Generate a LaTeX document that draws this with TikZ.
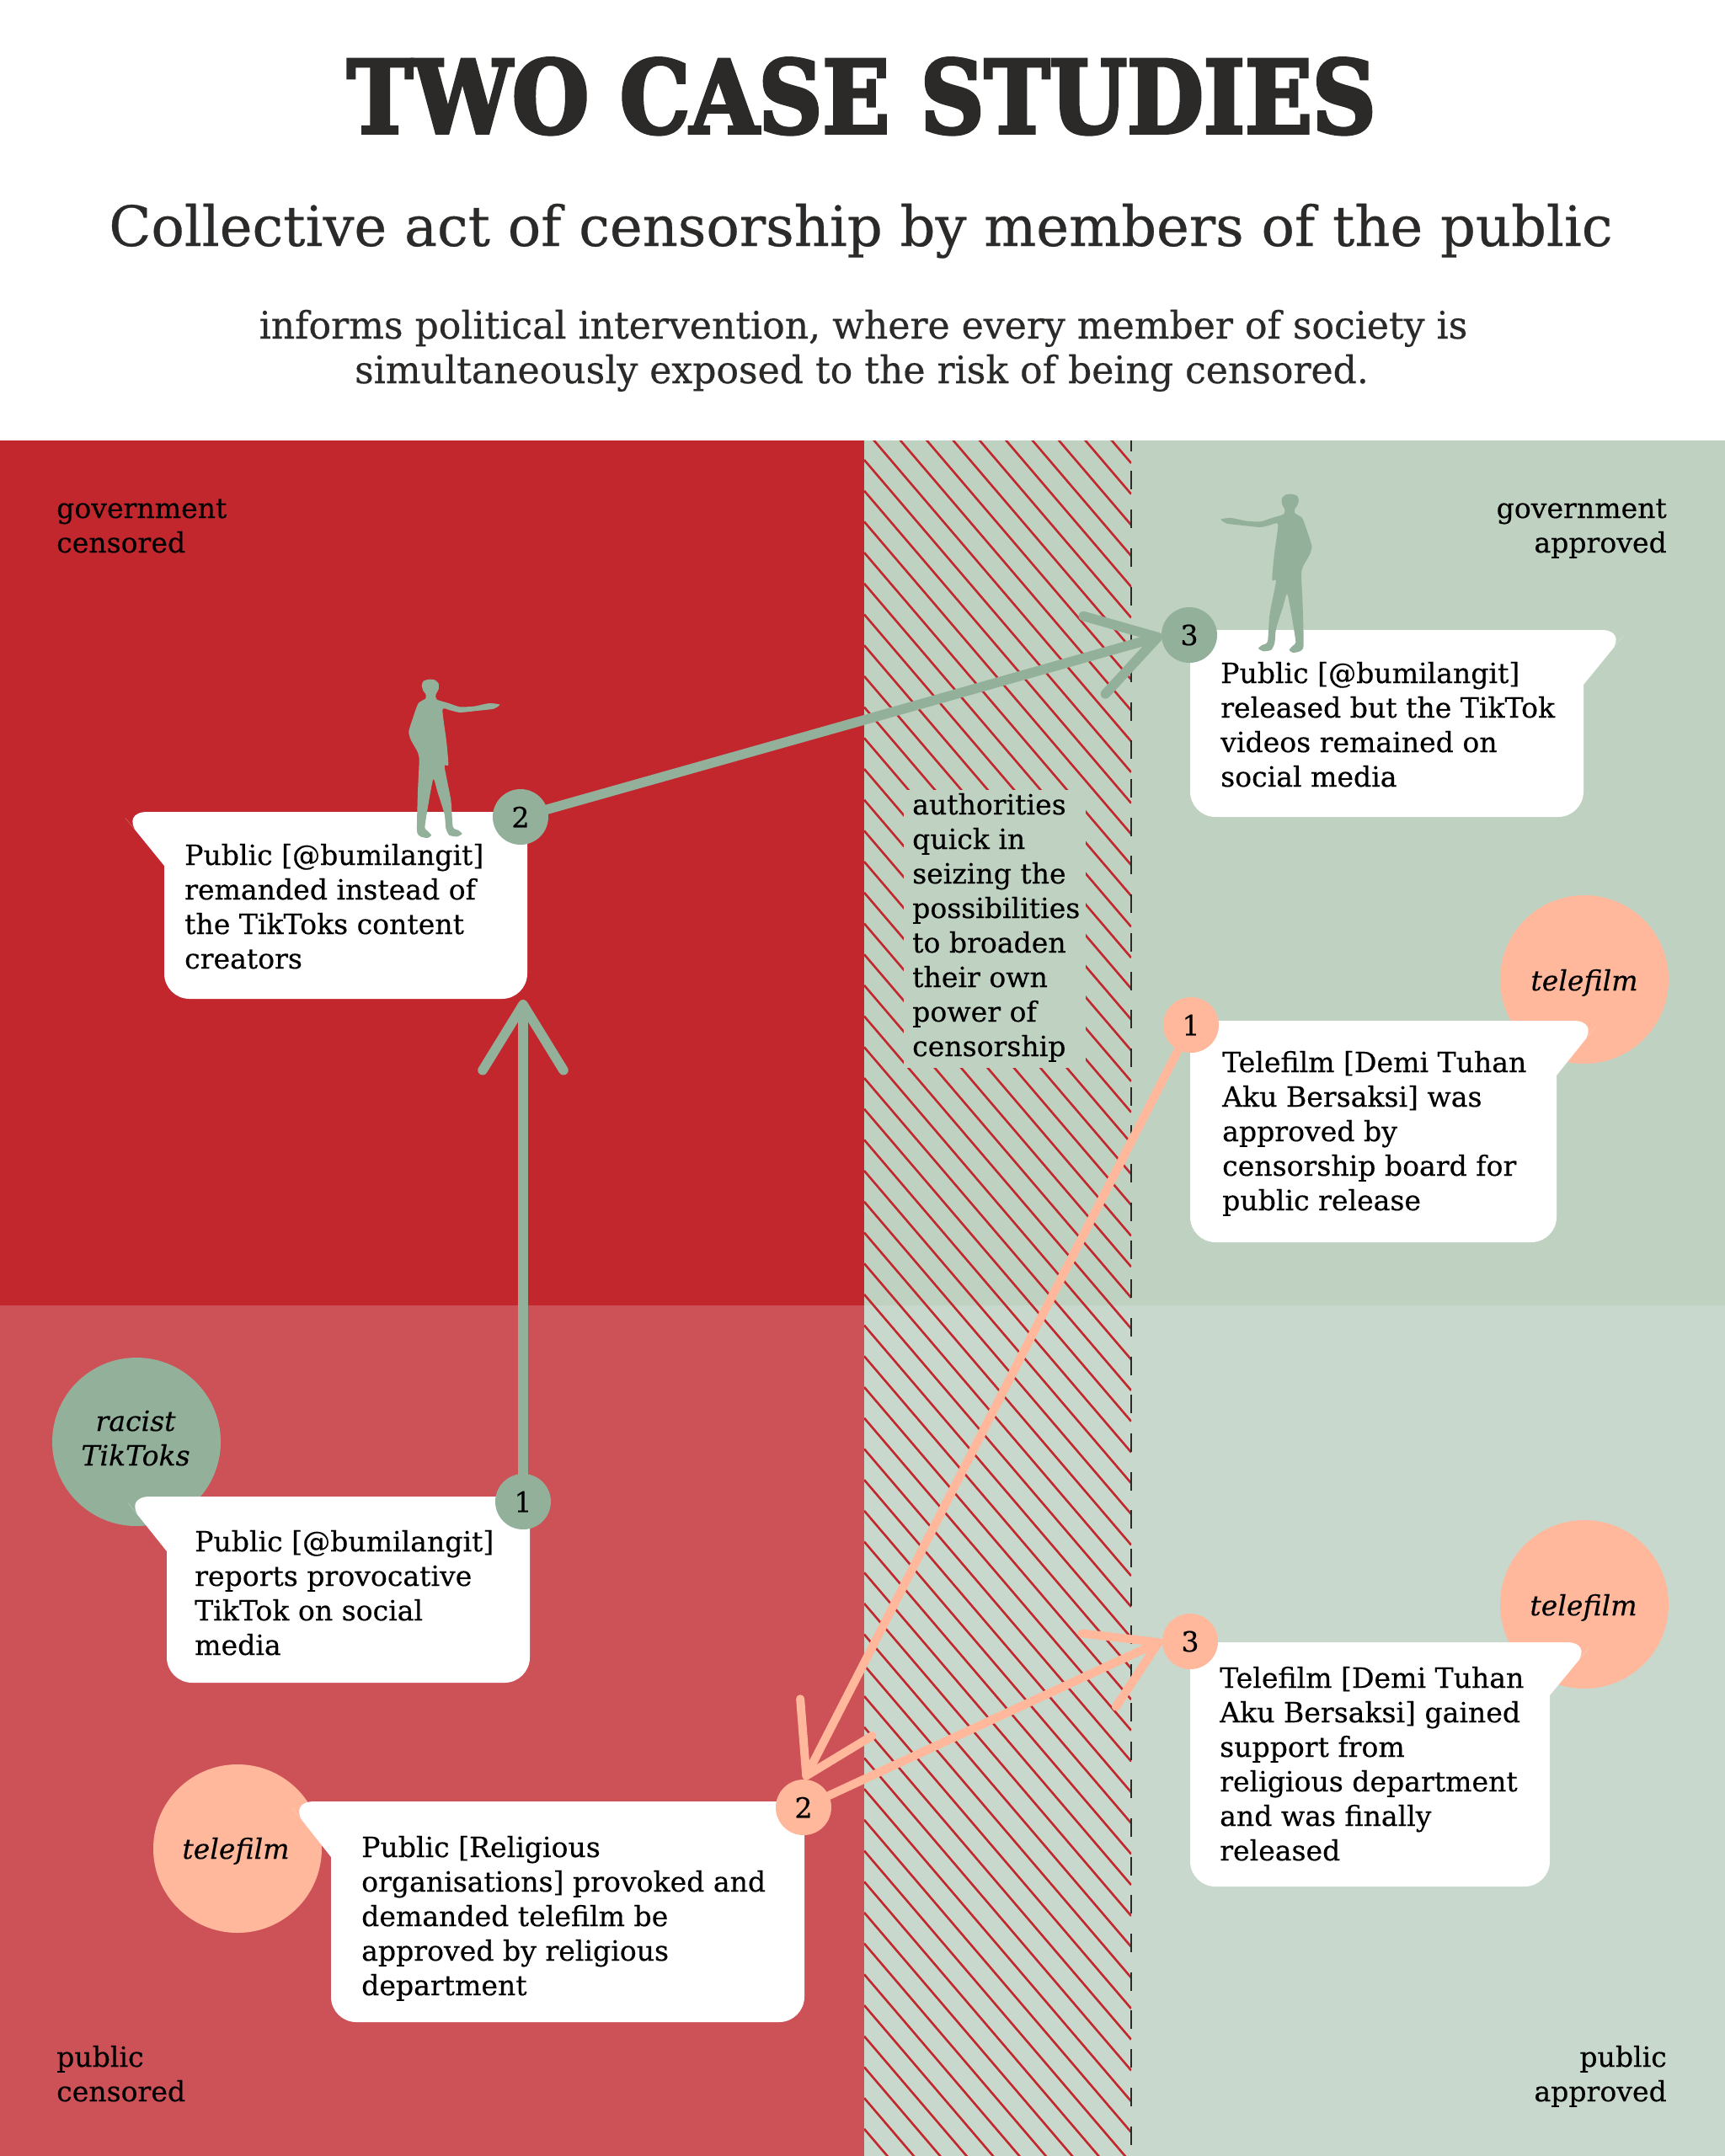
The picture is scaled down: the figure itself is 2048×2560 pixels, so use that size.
\documentclass[tikz,border=0pt]{standalone}
\usepackage{fontspec}
\usetikzlibrary{arrows.meta}
\setmainfont{DejaVu Serif}
\newfontfamily\bodyf[FakeStretch=1.003,FakeBold=0.4]{DejaVu Serif}
\newfontfamily\subf[FakeStretch=0.992,FakeBold=0.4]{DejaVu Serif}
\newfontfamily\subg[FakeStretch=0.98,FakeBold=0.4]{DejaVu Serif}
\newfontfamily\titlef[FakeStretch=0.874,FakeBold=3.2]{DejaVu Serif Bold}
\definecolor{redtop}{HTML}{C1272D}
\definecolor{redlow}{HTML}{CD5257}
\definecolor{grntop}{HTML}{BFD1C1}
\definecolor{grnlow}{HTML}{C9D8CC}
\definecolor{sage}{HTML}{93B09B}
\definecolor{peach}{HTML}{FFB89C}
\definecolor{ink}{HTML}{2B2A29}
\newcommand{\ml}[1]{\begin{tabular}[t]{@{}l@{}}#1\end{tabular}}
\newcommand{\mr}[1]{\begin{tabular}[t]{@{}r@{}}#1\end{tabular}}
\newcommand{\mc}[1]{\begin{tabular}[t]{@{}c@{}}#1\end{tabular}}
\newcommand{\bubL}[6]{\fill[white] (#1,#5) [rounded corners=30pt] -- (#1,#4) -- (#2,#4) [rounded corners=6pt] -- (#2,#3) [rounded corners=32pt] -- (#6,#3) -- ({(#1+#6)/2},{(#3+#5)/2}) [sharp corners] -- cycle;}
\newcommand{\bubR}[6]{\fill[white] (#2,#5) [rounded corners=30pt] -- (#2,#4) -- (#1,#4) [rounded corners=6pt] -- (#1,#3) [rounded corners=32pt] -- (#6,#3) -- ({(#2+#6)/2},{(#3+#5)/2}) [sharp corners] -- cycle;}
\newcommand{\figpath}{(88,140) (125,135) (180,146) (230,148) (270,135) (312,122) (316,105) (306,85) (306,65) (320,52) (340,50) (360,56) (366,72) (360,92) (352,102) (352,118) (378,135) (395,180) (412,235) (405,265) (380,310) (375,340) (380,450) (383,590) (370,610) (345,615) (332,605) (345,590) (355,578) (345,510) (325,405) (310,450) (285,530) (280,580) (268,605) (240,610) (222,600) (235,588) (255,575) (262,480) (285,360) (271,355) (278,270) (292,158) (265,160) (230,168) (170,162) (110,155)}
\tikzset{
  body/.style={anchor=base west,inner sep=0pt,text=black,font=\bodyf\fontsize{33}{41}\selectfont},
  bodyr/.style={anchor=base east,inner sep=0pt,text=black,font=\bodyf\fontsize{33}{41}\selectfont},
  num/.style={circle,minimum size=66pt,inner sep=0pt,text=black,font=\bodyf\fontsize{33}{41}\selectfont},
  big/.style={circle,minimum size=200pt,inner sep=0pt},
  ital/.style={anchor=base,inner sep=0pt,text=black,font=\bodyf\itshape\fontsize{33}{41}\selectfont},
  gline/.style={draw=sage,line width=11.5pt,line cap=round},
  pline/.style={draw=peach,line width=10pt,line cap=round},
  barb/.style={-{Straight Barb[length=78pt,width=96pt,round]}},
}
\begin{document}
\begin{tikzpicture}[x=1pt,y=-1pt]
\useasboundingbox (0,0) rectangle (2048,2560);
\fill[white] (0,0) rectangle (2048,2560);
% panels
\fill[redtop] (0,523) rectangle (1026,1550);
\fill[redlow] (0,1550) rectangle (1026,2560);
\fill[grntop] (1026,523) rectangle (2048,1550);
\fill[grnlow] (1026,1550) rectangle (2048,2560);
% hatch
\begin{scope}
\clip (1026,523) rectangle (1343,2560);
\foreach \k in {-21,...,45}
  \draw[redtop,line width=2.6pt] (1026,{913+36.7*\k}) -- (1343,{913+36.7*\k+371});
\end{scope}
\fill[grntop] (1073,938) rectangle (1289,1268);
\draw[ink,line width=2.6pt,dash pattern=on 22pt off 23.7pt,dash phase=9.3pt] (1343,523) -- (1343,2560);
% titles
\node[inner sep=0pt,text=ink,anchor=base] (title) at (1023,158) {\titlef\fontsize{120}{130}\selectfont TWO CASE STUDIES};
\node[inner sep=0pt,text=ink,anchor=base] (sub) at (1022,292) {\subf\fontsize{66}{70}\selectfont Collective act of censorship by members of the public};
\node[inner sep=0pt,text=ink,anchor=base] (sub2a) at (1025,402) {\subg\fontsize{45}{53}\selectfont informs political intervention, where every member of society is};
\node[inner sep=0pt,text=ink,anchor=base] (sub2b) at (1023,455) {\subg\fontsize{45}{53}\selectfont simultaneously exposed to the risk of being censored.};
% quadrant labels
\node[body] (gc) at (67,615) {\ml{government\\censored}};
\node[bodyr] (ga) at (1979,615) {\mr{government\\approved}};
\node[body] (pc) at (67,2454) {\ml{public\\censored}};
\node[bodyr] (pa) at (1979,2454) {\mr{public\\approved}};
\node[body] (auth) at (1083,967) {\ml{authorities\\quick in\\seizing the\\possibilities\\to broaden\\their own\\power of\\censorship}};
% big circles
\node[big,fill=sage] (racist) at (162,1712) {};
\node[big,fill=peach] (tf1) at (282,2195) {};
\node[big,fill=peach] (tf2) at (1881,1163) {};
\node[big,fill=peach] (tf3) at (1881,1905) {};
\node[ital] (lr) at (161,1699) {\mc{racist\\TikToks}};
\node[ital] (l1) at (280,2207) {telefilm};
\node[ital] (l2) at (1881,1176) {telefilm};
\node[ital] (l3) at (1880,1918) {telefilm};
% bubbles
\bubL{195}{626}{964}{1186}{1028}{143}
\bubL{198}{629}{1777}{1998}{1842}{146}
\bubL{393}{955}{2139}{2401}{2205}{341}
\bubR{1413}{1880}{748}{970}{813}{1933}
\bubR{1413}{1848}{1212}{1475}{1277}{1900}
\bubR{1413}{1840}{1950}{2240}{2013}{1892}
\node[body] (t1) at (219,1027) {\ml{Public [@bumilangit]\\remanded instead of\\the TikToks content\\creators}};
\node[body] (t2) at (231,1842) {\ml{Public [@bumilangit]\\reports provocative\\TikTok on social\\media}};
\node[body] (t3) at (429,2205) {\ml{Public [Religious\\organisations] provoked and\\demanded telefilm be\\approved by religious\\department}};
\node[body] (t4) at (1449,811) {\ml{Public [@bumilangit]\\released but the TikTok\\videos remained on\\social media}};
\node[body] (t5) at (1451,1273) {\ml{Telefilm [Demi Tuhan\\Aku Bersaksi] was\\approved by\\censorship board for\\public release}};
\node[body] (t6) at (1448,2004) {\ml{Telefilm [Demi Tuhan\\Aku Bersaksi] gained\\support from\\religious department\\and was finally\\released}};
% number circles
\node[num,fill=sage] (g1) at (621,1783) {1};
\node[num,fill=sage] (g2) at (618,970) {2};
\node[num,fill=sage] (g3) at (1412,754) {3};
\node[num,fill=peach] (p1) at (1414,1217) {1};
\node[num,fill=peach] (p2) at (954,2146) {2};
\node[num,fill=peach] (p3) at (1413,1949) {3};
\coordinate (g2tip) at (621,1187);
\coordinate (g3tip) at (1380,755);
\coordinate (p2tip) at (955,2113);
\coordinate (p3tip) at (1380,1948);
% connectors
\draw[gline,barb] (g1) -- (g2tip);
\draw[gline,barb] (g2) -- (g3tip);
\draw[pline,barb] (p1) -- (p2tip);
\draw[pline,barb] (p2) -- (p3tip);
% figures
\begin{scope}[shift={(1420,570)},x=0.3333pt,y=-0.3333pt]
\fill[sage] plot[smooth cycle,tension=0.35] coordinates {\figpath};
\end{scope}
\begin{scope}[shift={(622.67,790)},x=-0.3333pt,y=-0.3333pt]
\fill[sage] plot[smooth cycle,tension=0.35] coordinates {\figpath};
\end{scope}
\end{tikzpicture}
\end{document}
